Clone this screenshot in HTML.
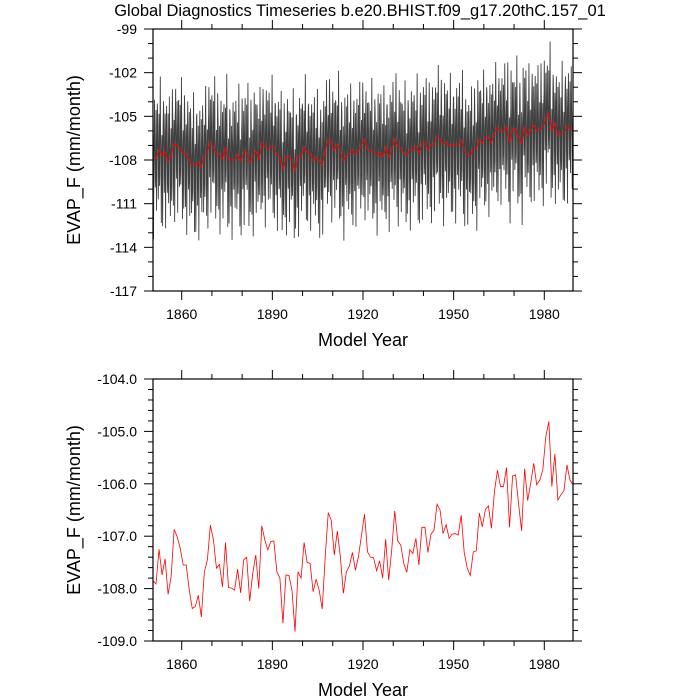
<!DOCTYPE html>
<html><head><meta charset="utf-8"><style>
html,body{margin:0;padding:0;background:#fff;}
svg{display:block;font-family:"Liberation Sans",Arial,sans-serif;}
</style></head><body>
<svg id="chart" width="700" height="700" viewBox="0 0 700 700">
<text x="360" y="16" text-anchor="middle" font-size="16.5">Global Diagnostics Timeseries b.e20.BHIST.f09_g17.20thC.157_01</text>
<g id="top"></g>
<g id="bot"></g>
</svg>
<script>
const startYear = 1850;
const annualValues = [-107.85,-107.91,-107.25,-107.74,-107.43,-108.11,-107.77,-106.87,-107.01,-107.23,-107.55,-107.55,-108.03,-108.38,-108.34,-108.13,-108.54,-107.68,-107.45,-106.79,-107.07,-107.61,-107.54,-107.97,-107.12,-107.98,-107.99,-108.03,-107.63,-108.08,-107.45,-107.40,-108.24,-107.71,-107.36,-108.00,-106.80,-107.07,-107.26,-107.10,-107.09,-107.68,-107.80,-108.66,-107.74,-107.75,-108.03,-108.82,-107.68,-107.80,-107.12,-107.50,-107.52,-108.06,-107.82,-108.03,-108.39,-107.39,-106.55,-106.70,-107.36,-106.90,-107.39,-108.09,-107.68,-107.57,-107.31,-107.65,-107.39,-106.98,-106.58,-107.30,-107.40,-107.41,-107.66,-107.47,-107.80,-107.06,-107.84,-107.26,-106.52,-107.09,-107.17,-107.52,-107.69,-107.26,-107.33,-107.04,-107.55,-106.83,-106.83,-107.31,-106.96,-106.89,-106.39,-106.50,-106.95,-106.78,-107.04,-106.96,-106.95,-106.98,-106.60,-107.31,-107.61,-107.75,-107.30,-107.28,-106.56,-106.82,-106.49,-106.42,-106.85,-106.15,-105.74,-106.05,-106.05,-105.69,-106.83,-105.85,-105.83,-106.39,-106.90,-105.71,-106.32,-105.99,-105.61,-106.02,-105.93,-105.74,-105.10,-104.81,-106.05,-105.43,-106.31,-106.21,-106.13,-105.64,-105.93,-106.02];
const monthlyAnomaly = [2.9,1.2,-0.6,-3.3,-1.4,0.4,2.4,-0.9,-4.0,-1.8,1.7,3.6];
const xTickLabels = ["1860","1890","1920","1950","1980"];
const topYTicks = ["-99","-102","-105","-108","-111","-114","-117"];
const botYTicks = ["-104.0","-105.0","-106.0","-107.0","-108.0","-109.0"];

const NS="http://www.w3.org/2000/svg";
function mk(tag, attrs, parent){const e=document.createElementNS(NS,tag);for(const k in attrs)e.setAttribute(k,attrs[k]);parent.appendChild(e);return e;}

function panel(g, y0, y1, ymin, ymax, major, minor, yLabels, withMonthly){
  const x0=153, x1=573;
  const tStart=startYear+0.5, tEnd=startYear+annualValues.length-0.5;
  const X=t=>x0+(t-tStart)/(tEnd-tStart)*(x1-x0);
  const Y=v=>y0+(ymax-v)/(ymax-ymin)*(y1-y0);
  const clip='clip'+y0;
  const cp=mk('clipPath',{id:clip},g);mk('rect',{x:x0,y:y0,width:x1-x0,height:y1-y0},cp);
  if(withMonthly){
    let d='';
    annualValues.forEach((v,i)=>{monthlyAnomaly.forEach((a,m)=>{
      const t=startYear+i+m/12;
      const s=1+0.4*Math.sin(i*1.7+m);
      d+=(d?'L':'M')+X(t).toFixed(2)+','+Y(v+a*s).toFixed(2);
    });});
    const p=mk('path',{d:d,fill:'none',stroke:'#000','stroke-opacity':0.75,'stroke-width':0.9,'clip-path':'url(#'+clip+')'},g);
    
    
  }
  let d2='';
  annualValues.forEach((v,i)=>{d2+=(i?'L':'M')+X(startYear+i+0.5).toFixed(2)+','+Y(v).toFixed(2);});
  const r=mk('path',{d:d2,fill:'none',stroke:'#f00','stroke-width':withMonthly?0.9:0.8,'clip-path':'url(#'+clip+')'},g);
  
  
  const f=mk('rect',{x:x0,y:y0,width:x1-x0,height:y1-y0,fill:'none',stroke:'#000','stroke-width':1.2},g);
  
  
  for(let yr=1850;yr<=1990;yr+=10){
    const x=X(yr); if(x<x0-0.5||x>x1+0.5)continue;
    const L=(yr%30===0)?9:5;
    mk('line',{x1:x,y1:y1,x2:x,y2:y1+L,stroke:'#000','stroke-width':1},g);
    mk('line',{x1:x,y1:y0,x2:x,y2:y0-L,stroke:'#000','stroke-width':1},g);
  }
  xTickLabels.forEach(lb=>{
    const t=mk('text',{x:X(+lb),y:y1+28,'text-anchor':'middle','font-size':14},g);t.textContent=lb;
    
    
  });
  const n=Math.round((ymax-ymin)/minor);
  for(let k=0;k<=n;k++){
    const v=ymax-k*minor, y=Y(v);
    const isMaj=Math.abs(((ymax-v)/major)-Math.round((ymax-v)/major))<1e-6;
    const L=isMaj?9:5;
    mk('line',{x1:x0,y1:y,x2:x0-L,y2:y,stroke:'#000','stroke-width':1},g);
    mk('line',{x1:x1,y1:y,x2:x1+L,y2:y,stroke:'#000','stroke-width':1},g);
  }
  yLabels.forEach(lb=>{
    const t=mk('text',{x:137,y:Y(parseFloat(lb))+5,'text-anchor':'end','font-size':14},g);t.textContent=lb;
    
    
  });
  const yt=mk('text',{x:0,y:0,'text-anchor':'middle','font-size':18,transform:'translate(80,'+((y0+y1)/2)+') rotate(-90)'},g);
  yt.textContent='EVAP_F (mm/month)';
  
  
  const xt=mk('text',{x:363,y:y1+55,'text-anchor':'middle','font-size':18},g);
  xt.textContent='Model Year';
  
  
}
panel(document.getElementById('top'),29,291,-117,-99,3,1,topYTicks,true);
panel(document.getElementById('bot'),379,641,-109,-104,1,0.2,botYTicks,false);
</script>
</body></html>
